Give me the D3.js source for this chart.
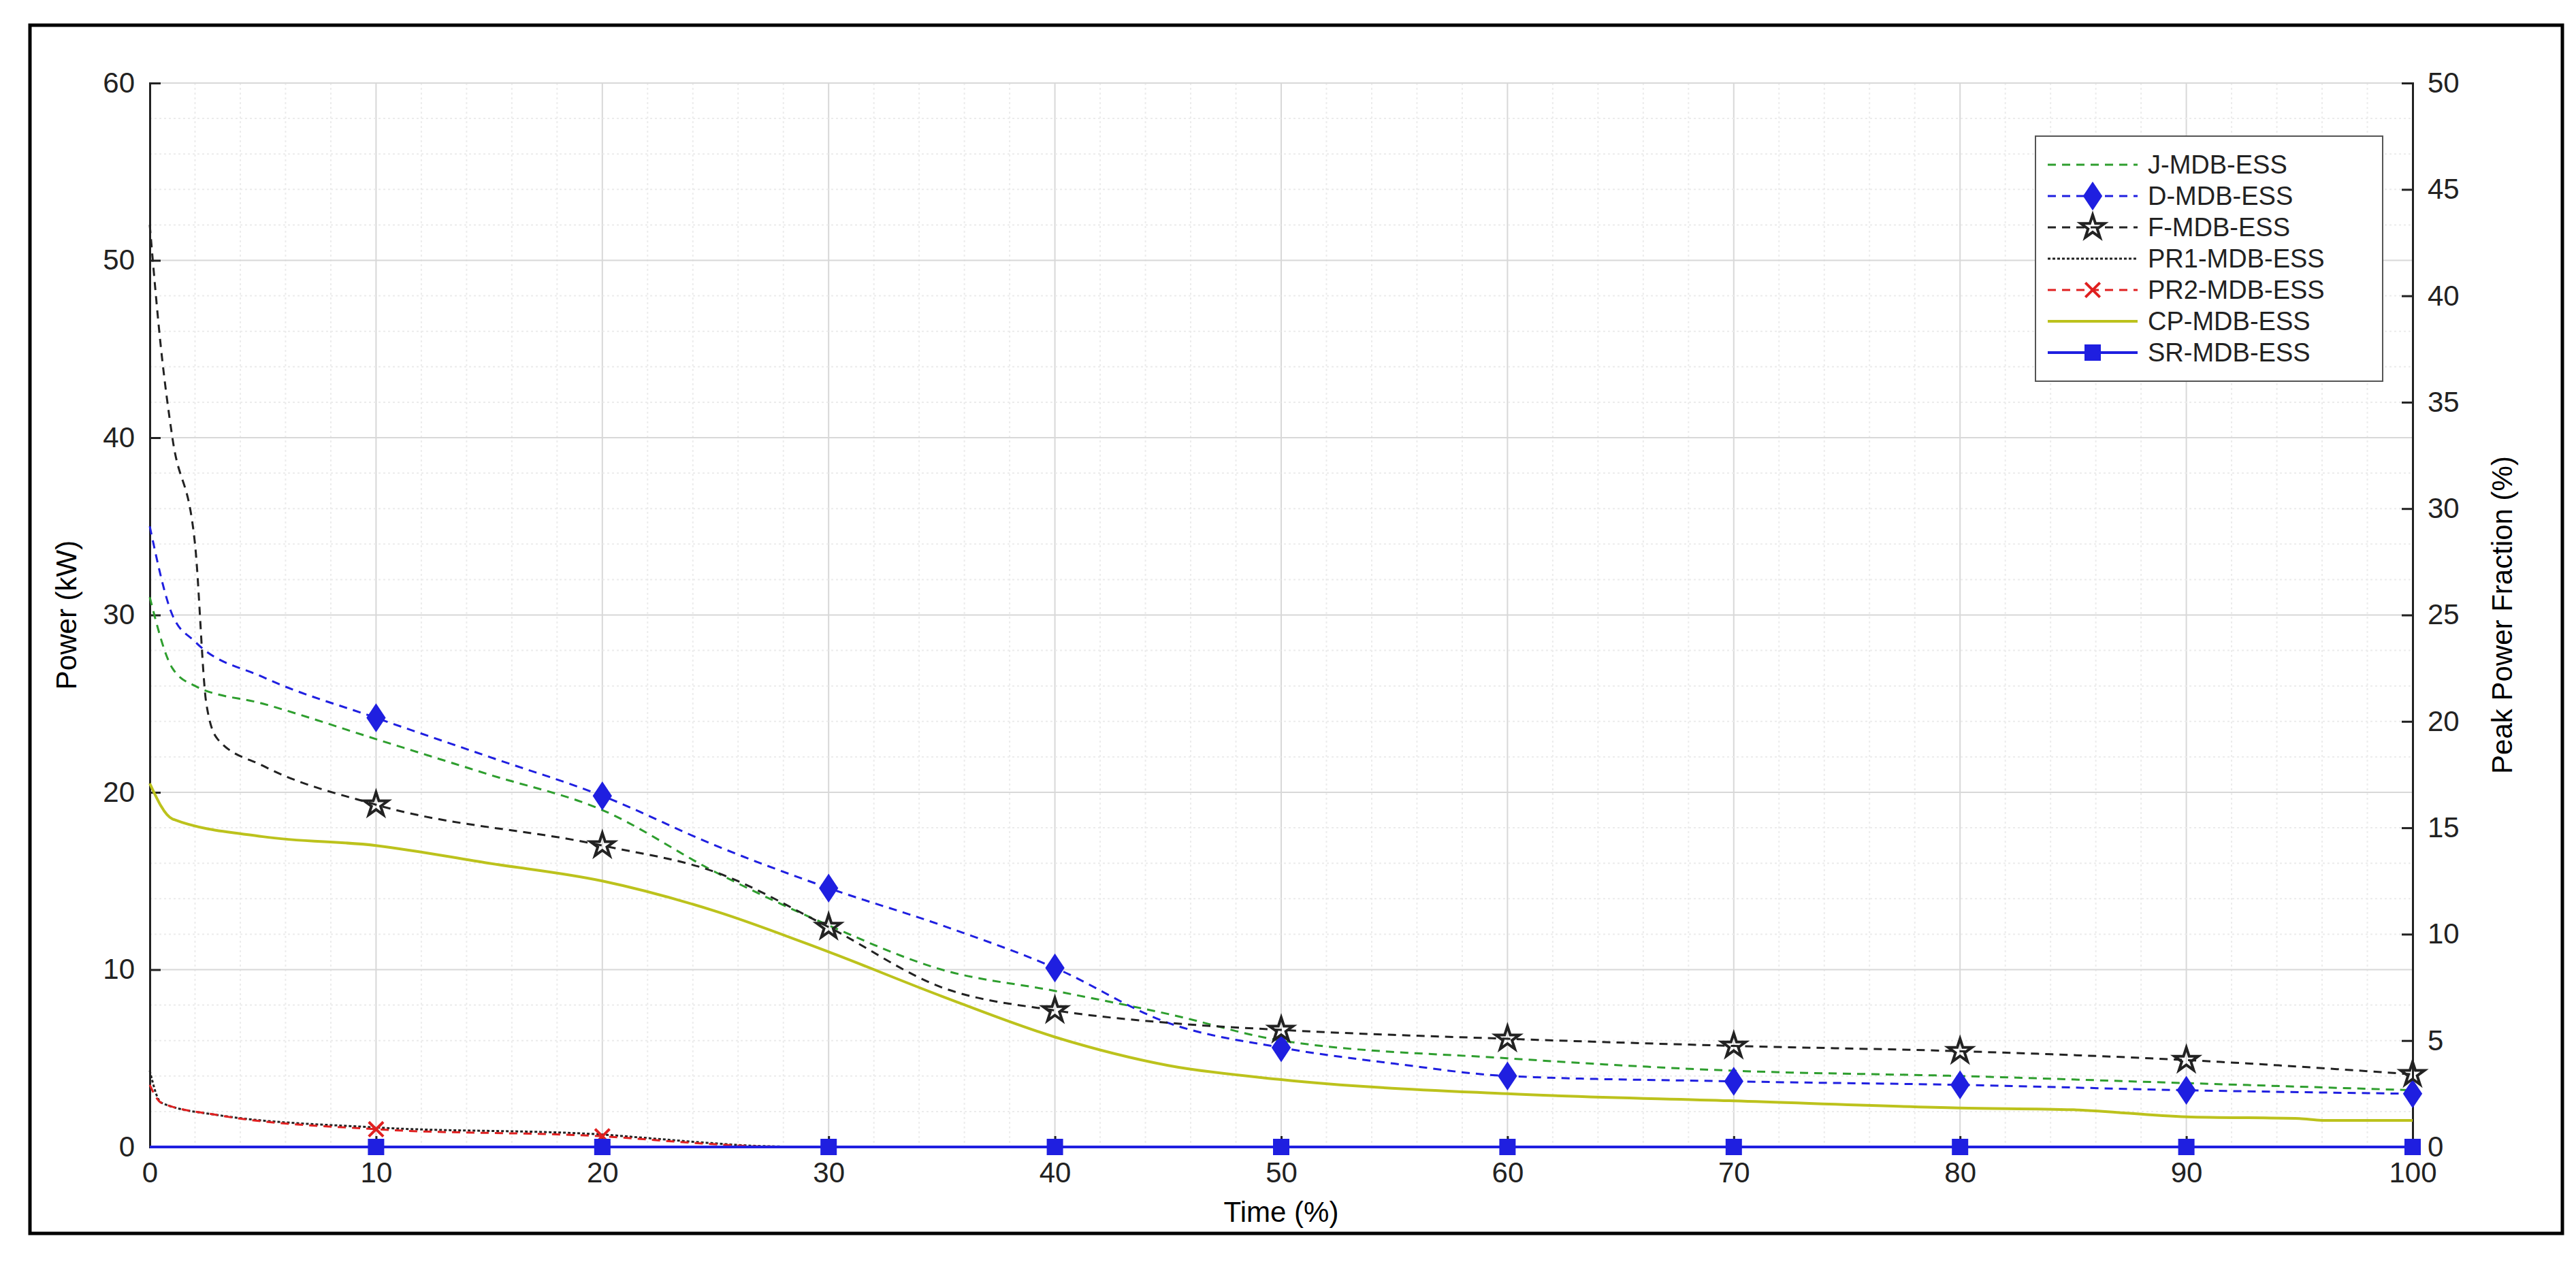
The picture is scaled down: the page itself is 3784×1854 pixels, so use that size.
<!DOCTYPE html>
<html><head><meta charset="utf-8">
<script src="https://cdn.jsdelivr.net/npm/d3@7"></script>
<style>body{margin:0;background:#fff}text{font-family:"Liberation Sans",Arial,sans-serif}</style>
</head><body><svg id="c" width="3784" height="1854"></svg>
<script>
// series: [time %, power kW]
var jData = [[0,31],[1,27],[2,26],[5,25],[10,23],[15,21],[20,19],[25,15.5],[30,12.5],[35,10],[40,8.8],[45,7.5],[50,6],[60,5],[70,4.3],[80,4],[90,3.6],[100,3.2]];
var dData = [[0,35],[1,30],[2,28.5],[5,26.5],[10,24.2],[15,22],[20,19.8],[25,17],[30,14.6],[35,12.5],[40,10.1],[45,7],[50,5.6],[55,4.7],[60,4],[70,3.7],[80,3.5],[90,3.2],[100,3.0]];
var fData = [[0,52],[0.5,45],[1,40],[2,34],[2.5,25],[3,23],[5,21.5],[10,19.3],[20,17],[25,15.5],[30,12.4],[35,9],[40,7.7],[45,7],[50,6.6],[60,6.1],[70,5.7],[80,5.4],[90,4.9],[100,4.1]];
var pr1Data = [[0,4.3],[0.5,2.5],[3,1.8],[10,1.1],[20,0.7],[22,0.5],[25,0.2],[27,0.05],[30,0],[100,0]];
var pr2Data = [[0,3.5],[0.5,2.5],[3,1.8],[10,1.0],[20,0.6],[25,0.15],[27,0.03],[30,0],[100,0]];
var cpData = [[0,20.5],[1,18.5],[5,17.5],[10,17],[15,16],[20,15],[25,13.3],[30,11],[35,8.5],[40,6.2],[45,4.6],[50,3.8],[60,3],[70,2.6],[80,2.2],[85,2.1],[90,1.7],[95,1.6],[96,1.5],[100,1.5]];
var srData = [[0,0],[100,0]];
var markerTimes = [10,20,30,40,50,60,70,80,90,100];
var xTicks = [0,10,20,30,40,50,60,70,80,90,100];
var yTicks = [0,10,20,30,40,50,60];
var y2Ticks = [0,5,10,15,20,25,30,35,40,45,50];

var svg = d3.select("#c");
var L = 220, R = 3544, T = 122, B = 1685;
var x = d3.scaleLinear().domain([0,100]).range([L,R]);
var y = d3.scaleLinear().domain([0,60]).range([B,T]);
var y2 = d3.scaleLinear().domain([0,50]).range([B,T]);

svg.append("rect").attr("x",44).attr("y",37).attr("width",3720).attr("height",1775)
  .attr("fill","none").attr("stroke","#000").attr("stroke-width",5);

// grid
var g = svg.append("g");
d3.range(0,101,2).forEach(function(v){
  g.append("line").attr("x1",x(v)).attr("x2",x(v)).attr("y1",T).attr("y2",B)
    .attr("stroke",v%10===0?"#d8d8d8":"#ececec").attr("stroke-width",2)
    .attr("stroke-dasharray",v%10===0?null:"3,4");
});
d3.range(0,61,2).forEach(function(v){
  g.append("line").attr("x1",L).attr("x2",R).attr("y1",y(v)).attr("y2",y(v))
    .attr("stroke",v%10===0?"#d8d8d8":"#ececec").attr("stroke-width",2)
    .attr("stroke-dasharray",v%10===0?null:"3,4");
});

// axes
function styleAxis(a){
  a.selectAll("text").attr("font-size",42).attr("fill","#222");
  a.selectAll("line,path").attr("stroke","#222").attr("stroke-width",3);
}
styleAxis(svg.append("g").attr("transform","translate(0,"+B+")")
  .call(d3.axisBottom(x).tickValues(xTicks).tickSize(-16).tickPadding(22)));
styleAxis(svg.append("g").attr("transform","translate("+L+",0)")
  .call(d3.axisLeft(y).tickValues(yTicks).tickSize(-16).tickPadding(22)));
styleAxis(svg.append("g").attr("transform","translate("+R+",0)")
  .call(d3.axisRight(y2).tickValues(y2Ticks).tickSize(-16).tickPadding(22)));

svg.append("text").attr("x",(L+R)/2).attr("y",1795).attr("text-anchor","middle").attr("font-size",42).text("Time (%)");
svg.append("text").attr("transform","translate(112,"+((T+B)/2)+") rotate(-90)").attr("text-anchor","middle").attr("font-size",42).text("Power (kW)");
svg.append("text").attr("transform","translate(3690,"+((T+B)/2)+") rotate(-90)").attr("text-anchor","middle").attr("font-size",42).text("Peak Power Fraction (%)");

var line = d3.line().x(function(d){return x(d[0]);}).y(function(d){return y(d[1]);}).curve(d3.curveMonotoneX);
function interp(data,t){
  for(var i=1;i<data.length;i++){ if(data[i][0]>=t){var a=data[i-1],b=data[i];return a[1]+(b[1]-a[1])*(t-a[0])/(b[0]-a[0]);} }
  return data[data.length-1][1];
}

var series = [
  {name:"J-MDB-ESS",data:jData,color:"#2e9e2e",dash:"12,9",w:3,marker:null},
  {name:"D-MDB-ESS",data:dData,color:"#1f1fe0",dash:"12,9",w:3,marker:"diamond"},
  {name:"F-MDB-ESS",data:fData,color:"#222",dash:"12,9",w:3,marker:"star"},
  {name:"PR1-MDB-ESS",data:pr1Data,color:"#222",dash:"4,3",w:3,marker:null},
  {name:"PR2-MDB-ESS",data:pr2Data,color:"#e02020",dash:"12,9",w:3,marker:"cross"},
  {name:"CP-MDB-ESS",data:cpData,color:"#bcc21c",dash:null,w:4,marker:null},
  {name:"SR-MDB-ESS",data:srData,color:"#1f1fe0",dash:null,w:4,marker:"square"}
];

function drawMarker(sel,type,color,cx,cy){
  if(type==="diamond") sel.append("path").attr("d",d3.symbol(d3.symbolDiamond2,800)()).attr("transform","translate("+cx+","+cy+") scale(0.8,1.2)").attr("fill",color);
  else if(type==="star") sel.append("path").attr("d",d3.symbol(d3.symbolStar,380)()).attr("transform","translate("+cx+","+cy+")").attr("fill","none").attr("stroke",color).attr("stroke-width",4);
  else if(type==="square") sel.append("rect").attr("x",cx-12).attr("y",cy-12).attr("width",24).attr("height",24).attr("fill",color);
  else if(type==="cross") sel.append("path").attr("d",d3.symbol(d3.symbolTimes,300)()).attr("transform","translate("+cx+","+cy+")").attr("fill","none").attr("stroke",color).attr("stroke-width",4);
}

var plot = svg.append("g");
series.forEach(function(s){
  plot.append("path").attr("d",line(s.data)).attr("fill","none").attr("stroke",s.color)
    .attr("stroke-width",s.w).attr("stroke-dasharray",s.dash);
});
series.forEach(function(s){
  if(!s.marker) return;
  var times = s.marker==="cross" ? [10,20] : markerTimes;
  times.forEach(function(t){ drawMarker(plot,s.marker,s.color,x(t),y(interp(s.data,t))); });
});

// legend
var lg = svg.append("g").attr("transform","translate(2990,200)");
lg.append("rect").attr("width",510).attr("height",360).attr("fill","#fff").attr("stroke","#555").attr("stroke-width",2);
series.forEach(function(s,i){
  var cy = 42 + i*46;
  lg.append("line").attr("x1",18).attr("x2",150).attr("y1",cy).attr("y2",cy).attr("stroke",s.color)
    .attr("stroke-width",s.w).attr("stroke-dasharray",s.dash);
  if(s.marker) drawMarker(lg,s.marker,s.color,84,cy);
  lg.append("text").attr("x",165).attr("y",cy+13).attr("font-size",38).attr("fill","#222").text(s.name);
});
</script></body></html>
